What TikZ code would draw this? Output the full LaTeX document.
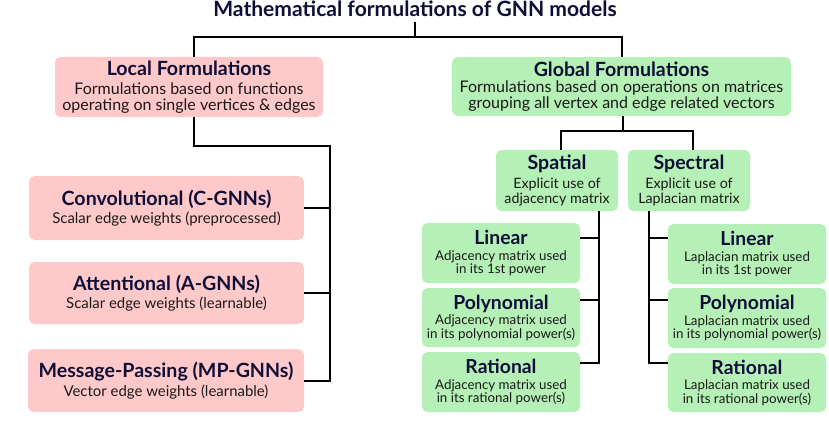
\documentclass[tikz,border=0pt]{standalone}
\usepackage{xcolor}
\usepackage{fontspec}
\setmainfont{Lato}
\usepackage{tikz}
\definecolor{navy}{RGB}{14,14,56}
\definecolor{localpink}{RGB}{255,201,201}
\definecolor{globalgreen}{RGB}{181,240,182}
\tikzstyle{block} = [rounded corners=4pt, inner sep=1pt, align=center, text=black!90]
\tikzstyle{localblock} = [block, fill=localpink]
\tikzstyle{globalblock} = [block, fill=globalgreen]
\tikzstyle{link} = [line width=1.5pt]
\newcommand{\headbig}[1]{{\fontsize{14.7}{15}\selectfont\bfseries\color{navy}#1}}
\newcommand{\headsmall}[1]{{\fontsize{14.5}{15}\selectfont\bfseries\color{navy}#1}}

\begin{document}
\begin{tikzpicture}[x=0.75pt, y=-0.75pt]
        \useasboundingbox (0,0) rectangle (829,435);
        % Title
        \node[font=\fontsize{15.8}{17}\selectfont\bfseries, text=navy] (title) at (415,9) {Mathematical formulations of GNN models};

        % Local side
        \node[localblock, minimum width=201pt, minimum height=45pt, font=\fontsize{12}{12}\selectfont] (local) at (189,87)
            {\headbig{Local Formulations}\\[2pt] Formulations based on functions\\ operating on single vertices \& edges};
        \node[localblock, minimum width=206pt, minimum height=48pt, font=\fontsize{11.2}{11.5}\selectfont] (conv) at (166.5,208)
            {\headbig{Convolutional (C-GNNs)}\\[2pt] Scalar edge weights (preprocessed)};
        \node[localblock, minimum width=206pt, minimum height=46.5pt, font=\fontsize{11.2}{11.5}\selectfont] (att) at (166.5,293)
            {\headbig{Attentional (A-GNNs)}\\[2pt] Scalar edge weights (learnable)};
        \node[localblock, minimum width=207pt, minimum height=47pt, font=\fontsize{11.2}{11.5}\selectfont] (mp) at (166,380.5)
            {\headbig{Message-Passing (MP-GNNs)}\\[3pt] Vector edge weights (learnable)};

        % Global side
        \node[globalblock, minimum width=254pt, minimum height=44pt, font=\fontsize{12}{11.5}\selectfont] (global) at (621.5,86.5)
            {\headbig{Global Formulations}\\[1pt] Formulations based on operations on matrices\\ grouping all vertex and edge related vectors};
        \node[globalblock, minimum width=91.5pt, minimum height=45.75pt, font=\fontsize{10.7}{11.25}\selectfont] (spatial) at (557,180.5)
            {\headbig{Spatial}\\[2.5pt] Explicit use of\\ adjacency matrix};
        \node[globalblock, minimum width=91.5pt, minimum height=45.75pt, font=\fontsize{10.7}{11.25}\selectfont] (spectral) at (689,180.5)
            {\headbig{Spectral}\\[3pt] Explicit use of\\ Laplacian matrix};

        % Spatial children
        \node[globalblock, minimum width=118.5pt, minimum height=45pt, font=\fontsize{10}{9.9}\selectfont] (slin) at (501,253)
            {\headsmall{Linear}\\[2.5pt] Adjacency matrix used\\ in its 1st power};
        \node[globalblock, minimum width=118.5pt, minimum height=44.25pt, font=\fontsize{10}{9.9}\selectfont] (spoly) at (501,317.5)
            {\headsmall{Polynomial}\\[2pt] Adjacency matrix used\\ in its polynomial power(s)};
        \node[globalblock, minimum width=118.5pt, minimum height=45pt, font=\fontsize{10}{9.9}\selectfont] (srat) at (501,382)
            {\headsmall{Rational}\\[2pt] Adjacency matrix used\\ in its rational power(s)};

        % Spectral children
        \node[globalblock, minimum width=118.5pt, minimum height=45pt, font=\fontsize{10}{9.9}\selectfont] (tlin) at (747,254)
            {\headsmall{Linear}\\[2pt] Laplacian matrix used\\ in its 1st power};
        \node[globalblock, minimum width=118.5pt, minimum height=45pt, font=\fontsize{10}{9.9}\selectfont] (tpoly) at (747,318)
            {\headsmall{Polynomial}\\[2pt] Laplacian matrix used\\ in its polynomial power(s)};
        \node[globalblock, minimum width=118.5pt, minimum height=44.25pt, font=\fontsize{10}{9.9}\selectfont] (trat) at (747,382.5)
            {\headsmall{Rational}\\[2pt] Laplacian matrix used\\ in its rational power(s)};

        % Connectors
        \coordinate (rootsplit) at (415,37);
        \coordinate (localbus) at (330,146);
        \coordinate (globalsplit) at (623,131);
        \coordinate (spatialbus) at (599,0);
        \coordinate (spectralbus) at (649,0);
        \draw[link] (title.south) -- (rootsplit);
        \draw[link] ([xshift=3.75pt]local.north) |- (rootsplit) -| (global.north);
        \draw[link] ([xshift=3.75pt]local.south) |- (localbus) -- (localbus |- mp.east) -- (mp.east);
        \draw[link] (conv.east) -- (conv.east -| localbus);
        \draw[link] (att.east) -- (att.east -| localbus);
        \draw[link] (globalsplit |- global.south) -- (globalsplit);
        \draw[link] ([xshift=3pt]spatial.north) |- (globalsplit) -| ([xshift=3pt]spectral.north);
        \draw[link] ([yshift=11pt]slin.east) -| (spatialbus |- spatial.south);
        \draw[link] ([yshift=13pt]spoly.east) -| (spatialbus |- spatial.south);
        \draw[link] ([yshift=14pt]srat.east) -| (spatialbus |- spatial.south);
        \draw[link] ([yshift=12pt]tlin.west) -| (spectralbus |- spectral.south);
        \draw[link] ([yshift=13.5pt]tpoly.west) -| (spectralbus |- spectral.south);
        \draw[link] ([yshift=14.5pt]trat.west) -| (spectralbus |- spectral.south);
\end{tikzpicture}
\end{document}
